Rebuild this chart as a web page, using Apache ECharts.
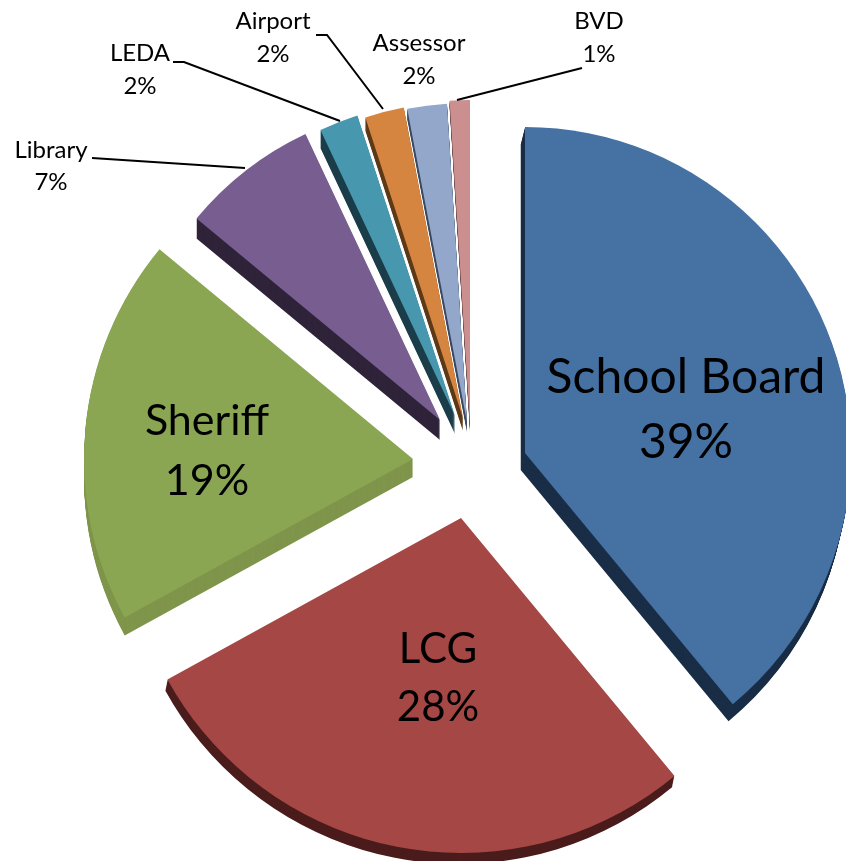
<!DOCTYPE html>
<html>
<head>
<meta charset="utf-8">
<title>Pie</title>
<script src="https://cdn.jsdelivr.net/npm/echarts@6/dist/echarts.min.js"></script>
<style>
html, body { margin: 0; padding: 0; background: #fff; }
#mychart { width: 846px; height: 861px; }
</style>
</head>
<body>
<div id="mychart"></div>
<script>
var names = ['School Board', 'LCG', 'Sheriff', 'Library', 'LEDA', 'Airport', 'Assessor', 'BVD']
var values = [39, 28, 19, 7, 2, 2, 2, 1]

var topColors = ['#4571a3', '#a54744', '#8aa653', '#775d90', '#4798af', '#d68541', '#92a7ca', '#ca8f8e']
var sideColors = ['#1a2e47', '#4a1c1b', '#7f954b', '#2f2339', '#1b3e4a', '#5e3a18', '#3d4a62', '#5e3d3d']

// 每一块炸开后的圆心和半径
var centers = [[525, 453], [461, 518], [413, 459], [440, 420], [455, 416], [463, 418], [467, 422], [470, 425]]
var radii = [326, 335, 329, 316, 316, 316, 319, 325]
// 侧面厚度，每层的横向偏移
var depth = [17, 11, 18, 20, 18, 13, 10, 6]
var sideDx = [-0.25, -0.2, 0, 0, 0, 0, 0, 0]

// 标签：中心点 x, y，字号，行高
var labelBoxes = [
    [686, 410, 48, 65], [438, 678, 42, 58], [207, 451, 43, 60],
    [51, 166, 24, 32], [140, 70, 24, 33], [273, 38, 24, 33], [419, 60, 24, 33], [599, 38, 24, 33]
]
var leaderLines = [
    [[92, 158], [245, 168]],
    [[173, 62], [184, 62], [340, 121]],
    [[316, 35], [327, 35], [383, 109]],
    [[582, 68], [457, 100]]
]

var total = values.reduce(function (a, b) { return a + b }, 0)
var series = []

function slicePie(i, startAngle, cx, cy, color, z) {
    return {
        type: 'pie',
        silent: true,
        animation: false,
        startAngle: startAngle,
        center: [cx, cy],
        radius: [0, radii[i]],
        z: z,
        label: { show: false },
        labelLine: { show: false },
        data: [
            { name: names[i], value: values[i], itemStyle: { color: color } },
            { name: '', value: total - values[i], itemStyle: { color: 'rgba(0,0,0,0)' } }
        ]
    }
}

var used = 0
names.forEach(function (n, i) {
    var start = 90 - used / total * 360
    // 侧面一层层往下叠
    for (var d = depth[i]; d >= 1; d--) {
        series.push(slicePie(i, start, centers[i][0] + d * sideDx[i], centers[i][1] + d, sideColors[i], 2))
    }
    series.push(slicePie(i, start, centers[i][0], centers[i][1], topColors[i], 3))
    used += values[i]
})

var graphics = []
leaderLines.forEach(function (pts) {
    graphics.push({
        type: 'polyline',
        z: 20,
        shape: { points: pts },
        style: { stroke: '#000', lineWidth: 2, fill: null }
    })
})
names.forEach(function (n, i) {
    var b = labelBoxes[i]
    graphics.push({
        type: 'text',
        z: 21,
        x: b[0],
        y: b[1],
        style: {
            text: n + '\n' + values[i] + '%',
            fill: '#000',
            font: b[2] + 'px Lato',
            lineHeight: b[3],
            align: 'center',
            verticalAlign: 'middle'
        }
    })
})

var myChart = echarts.init(document.getElementById('mychart'))
myChart.setOption({
    backgroundColor: '#fff',
    tooltip: { show: false },
    series: series,
    graphic: graphics
})
</script>
</body>
</html>
